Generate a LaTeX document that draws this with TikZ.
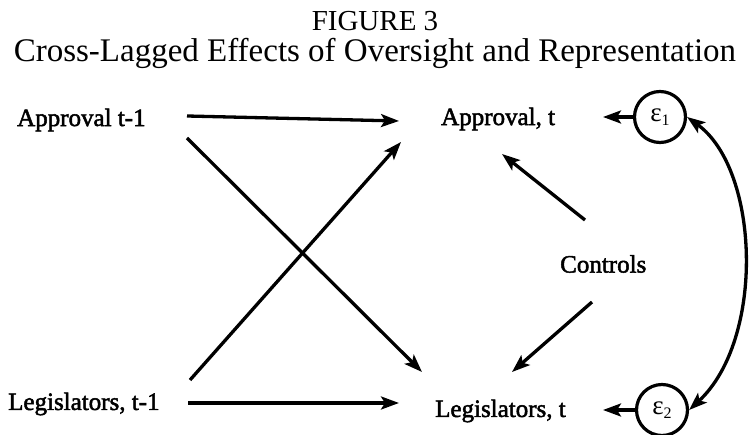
\documentclass[tikz,border=0pt]{standalone}
\usepackage{fontspec}
\setmainfont{Liberation Serif}
\newfontfamily\labfont[FakeBold=2]{Liberation Serif}
\usetikzlibrary{arrows.meta}
\begin{document}
\begin{tikzpicture}[x=1pt,y=-1pt,
  arr/.style={line width=3.3pt,-{Stealth[length=18pt,width=13pt,inset=4pt]}},
  dbl/.style={line width=3.3pt,{Stealth[length=18pt,width=13pt,inset=4pt]}-{Stealth[length=18pt,width=13pt,inset=4pt]}},
  lab/.style={inner sep=0pt,font=\labfont\fontsize{25}{25}\selectfont},
  err/.style={circle,draw,line width=3.2pt,minimum size=51pt,inner sep=0pt,font=\fontsize{27}{27}\selectfont}
]
\useasboundingbox (0,0) rectangle (750,435);
% titles
\node[inner sep=0pt,font=\fontsize{29}{29}\selectfont] (fig) at (375,21) {FIGURE 3};
\node[inner sep=0pt,font=\fontsize{33}{33}\selectfont] (sub) at (375,53) {Cross-Lagged Effects of Oversight and Representation};
% nodes
\node[lab,anchor=west] (a1) at (17,120) {Approval t-1};
\node[lab,anchor=west] (at) at (441,119) {Approval, t};
\node[lab,anchor=west] (l1) at (8,404) {Legislators, t-1};
\node[lab,anchor=west] (lt) at (435,411) {Legislators, t};
\node[lab,anchor=west] (ctrl) at (560,264) {Controls};
\node[err] (e1) at (660,117) {ε\raisebox{-0.3ex}{\fontsize{16}{16}\selectfont 1}};
\node[err] (e2) at (662,410) {ε\raisebox{-0.3ex}{\fontsize{16}{16}\selectfont 2}};
% connector endpoints
\coordinate (a1r) at (187,116);
\coordinate (a1d) at (187,138);
\coordinate (atl) at (399,121);
\coordinate (atb) at (401,142);
\coordinate (l1r) at (188,403);
\coordinate (l1u) at (190,380);
\coordinate (ltl) at (399,403);
\coordinate (ltt) at (422,372);
\coordinate (atc) at (502,154);
\coordinate (ltc) at (512,372);
\coordinate (cu) at (585,220);
\coordinate (cd) at (592,302);
\coordinate (e1l) at (603,117);
\coordinate (e2l) at (603,410);
% connectors
\draw[arr] (a1r) -- (atl);
\draw[arr] (a1d) -- (ltt);
\draw[arr] (l1u) -- (atb);
\draw[arr] (l1r) -- (ltl);
\draw[arr] (cu) -- (atc);
\draw[arr] (cd) -- (ltc);
\draw[arr] (e1.west) -- (e1l);
\draw[arr] (e2.west) -- (e2l);
\draw[dbl] (e1.east) .. controls (760,170) and (765,340) .. (e2.east);
\end{tikzpicture}
\end{document}
